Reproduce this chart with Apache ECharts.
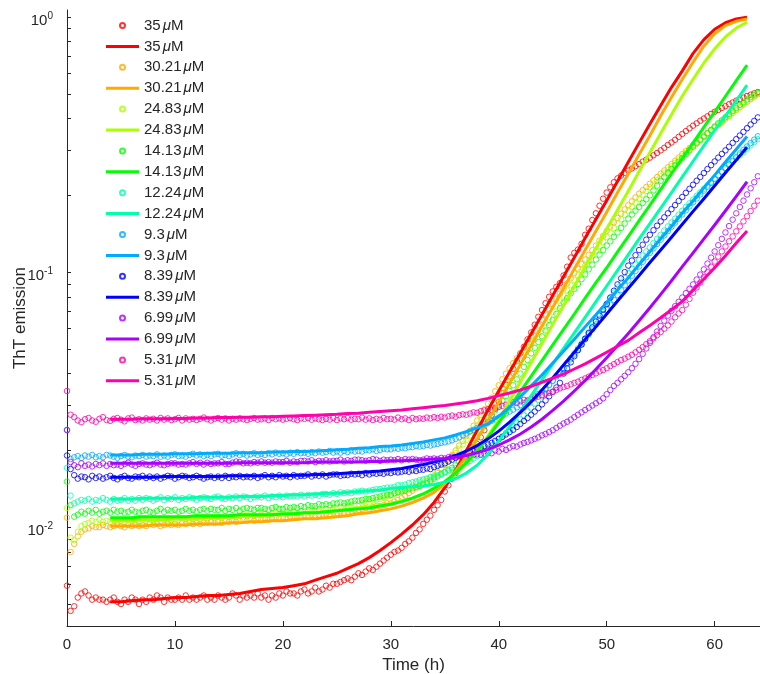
<!DOCTYPE html>
<html>
<head>
<meta charset="utf-8">
<script src="https://cdn.jsdelivr.net/npm/echarts@6/dist/echarts.min.js"></script>
<style>
html, body { margin: 0; padding: 0; background: #fff; }
#chart { width: 760px; height: 674px; }
</style>
</head>
<body>
<div id="chart"></div>
<script>
// Peptide concentrations (μM) and their colours
const concentrations = ['35', '30.21', '24.83', '14.13', '12.24', '9.3', '8.39', '6.99', '5.31'];
const palette = ['#ff0000', '#ffaa00', '#aaff00', '#00ff00', '#00ffaa', '#00aaff', '#0000ff', '#aa00ff', '#ff00aa'];

// Plate reader sampled every 20 min, starting at t = 0 h
const READ_INTERVAL_H = 1 / 3;
// Fitted curves are evaluated hourly from this time on
const FIT_START_H = 4;

// Axis ticks
const xTicks = [0, 10, 20, 30, 40, 50, 60];
const yLabelTicks = [0.01, 0.1, 1];
const yMinorTicks = [0.005, 0.006, 0.007, 0.008, 0.009, 0.01, 0.02, 0.03, 0.04, 0.05, 0.06, 0.07, 0.08, 0.09, 0.1, 0.2, 0.3, 0.4, 0.5, 0.6, 0.7, 0.8, 0.9, 1];

// Measured ThT emission
const tht35 = [.0059,.0047,.0049,.0053,.0055,.0056,.0054,.0052,.0053,.0052,.0052,.0051,.0052,.0053,.0051,.0050,.0052,.0051,.0053,.0052,.0050,.0052,.0051,.0053,.0052,.0054,.0053,.0051,.0053,.0052,.0052,.0053,.0052,.0054,.0052,.0053,.0052,.0053,.0054,.0052,.0053,.0052,.0054,.0053,.0052,.0053,.0055,.0054,.0052,.0054,.0053,.0054,.0053,.0055,.0053,.0054,.0052,.0054,.0053,.0055,.0054,.0056,.0055,.0055,.0054,.0056,.0057,.0055,.0056,.0058,.0056,.0057,.0059,.0058,.0060,.0060,.0061,.0062,.0063,.0062,.0064,.0066,.0065,.0067,.0069,.0068,.0070,.0072,.0074,.0076,.0078,.0080,.0081,.0083,.0086,.0088,.0091,.0095,.0098,.0103,.0107,.0111,.0117,.0122,.0128,.0138,.0146,.0155,.0163,.0172,.0180,.0189,.0196,.0203,.0212,.0225,.0240,.0258,.0274,.0291,.0310,.0335,.0362,.0390,.0418,.0448,.0480,.0510,.0545,.0580,.0622,.0668,.0710,.0755,.0800,.0840,.0875,.0905,.0970,.1050,.1140,.1190,.1225,.1290,.1400,.1480,.1600,.1700,.1820,.1940,.2050,.2150,.2250,.2330,.2390,.2450,.2500,.2550,.2600,.2650,.2710,.2760,.2810,.2870,.2930,.3000,.3070,.3150,.3220,.3300,.3390,.3480,.3570,.3660,.3750,.3830,.3920,.4000,.4080,.4170,.4250,.4320,.4400,.4470,.4550,.4620,.4700,.4760,.4830,.4900,.4960,.5020,.5080];
const tht30 = [.0109,.0080,.0086,.0092,.0096,.0098,.0099,.0101,.0100,.0100,.0102,.0101,.0100,.0101,.0102,.0101,.0100,.0102,.0101,.0102,.0101,.0102,.0101,.0103,.0102,.0103,.0101,.0102,.0103,.0102,.0103,.0102,.0104,.0103,.0104,.0103,.0104,.0103,.0104,.0104,.0105,.0104,.0105,.0104,.0106,.0105,.0106,.0105,.0106,.0107,.0106,.0107,.0106,.0108,.0107,.0108,.0107,.0108,.0109,.0108,.0109,.0108,.0110,.0110,.0109,.0110,.0111,.0110,.0112,.0111,.0112,.0113,.0113,.0112,.0114,.0114,.0115,.0114,.0115,.0116,.0117,.0117,.0118,.0119,.0118,.0120,.0121,.0121,.0122,.0124,.0124,.0126,.0128,.0130,.0133,.0136,.0139,.0142,.0145,.0148,.0151,.0154,.0157,.0163,.0170,.0176,.0184,.0192,.0200,.0209,.0218,.0228,.0239,.0250,.0262,.0275,.0290,.0305,.0322,.0341,.0360,.0380,.0400,.0420,.0440,.0460,.0480,.0505,.0532,.0560,.0588,.0618,.0650,.0682,.0715,.0750,.0785,.0822,.0860,.0902,.0945,.0990,.1032,.1075,.1120,.1168,.1218,.1270,.1327,.1387,.1450,.1508,.1568,.1630,.1695,.1762,.1830,.1895,.1962,.2030,.2093,.2156,.2220,.2288,.2358,.2430,.2502,.2575,.2650,.2730,.2813,.2900,.2982,.3065,.3150,.3238,.3328,.3420,.3512,.3605,.3700,.3798,.3898,.4000,.4105,.4212,.4320,.4428,.4538,.4650,.4758,.4868,.4980];
const tht24 = [.0119,.0091,.0089,.0096,.0101,.0103,.0104,.0106,.0105,.0107,.0105,.0106,.0105,.0107,.0106,.0106,.0105,.0107,.0107,.0106,.0105,.0106,.0108,.0107,.0107,.0106,.0108,.0108,.0107,.0106,.0107,.0109,.0108,.0108,.0107,.0109,.0109,.0108,.0110,.0108,.0110,.0109,.0110,.0109,.0111,.0110,.0111,.0110,.0111,.0112,.0111,.0112,.0111,.0113,.0112,.0113,.0112,.0113,.0114,.0113,.0114,.0113,.0115,.0115,.0114,.0116,.0116,.0115,.0117,.0117,.0116,.0118,.0118,.0119,.0118,.0119,.0120,.0121,.0121,.0122,.0123,.0123,.0124,.0125,.0125,.0127,.0128,.0129,.0130,.0132,.0133,.0135,.0137,.0139,.0141,.0143,.0145,.0148,.0151,.0153,.0155,.0157,.0160,.0165,.0170,.0175,.0181,.0188,.0195,.0203,.0211,.0220,.0229,.0239,.0250,.0263,.0276,.0290,.0304,.0319,.0335,.0353,.0371,.0390,.0409,.0429,.0450,.0472,.0496,.0520,.0545,.0572,.0600,.0632,.0665,.0700,.0735,.0772,.0810,.0848,.0888,.0930,.0972,.1015,.1060,.1108,.1158,.1210,.1262,.1315,.1370,.1428,.1488,.1550,.1612,.1675,.1740,.1805,.1872,.1940,.2010,.2080,.2150,.2222,.2295,.2370,.2445,.2522,.2600,.2682,.2765,.2850,.2935,.3022,.3110,.3198,.3288,.3380,.3474,.3570,.3670,.3772,.3876,.3980,.4087,.4197,.4310,.4425,.4542,.4660,.4780,.4903,.5030];
const tht14 = [.0151,.0122,.0110,.0112,.0115,.0113,.0116,.0114,.0117,.0113,.0115,.0116,.0114,.0117,.0115,.0116,.0114,.0115,.0117,.0115,.0114,.0116,.0117,.0115,.0114,.0116,.0118,.0115,.0117,.0116,.0117,.0115,.0116,.0118,.0116,.0117,.0115,.0117,.0118,.0116,.0118,.0117,.0117,.0119,.0116,.0118,.0117,.0119,.0116,.0118,.0119,.0118,.0117,.0119,.0119,.0118,.0117,.0119,.0120,.0118,.0118,.0120,.0119,.0120,.0119,.0121,.0120,.0122,.0121,.0121,.0123,.0122,.0123,.0122,.0124,.0124,.0125,.0124,.0125,.0126,.0127,.0127,.0128,.0129,.0129,.0130,.0131,.0132,.0133,.0134,.0134,.0136,.0137,.0138,.0139,.0141,.0142,.0144,.0145,.0147,.0149,.0152,.0155,.0158,.0161,.0164,.0168,.0171,.0175,.0181,.0188,.0195,.0204,.0214,.0225,.0237,.0249,.0262,.0275,.0287,.0300,.0313,.0327,.0342,.0360,.0380,.0400,.0425,.0452,.0480,.0505,.0532,.0560,.0590,.0620,.0650,.0686,.0722,.0760,.0791,.0825,.0860,.0898,.0938,.0980,.1025,.1070,.1120,.1170,.1220,.1270,.1320,.1375,.1430,.1490,.1550,.1620,.1680,.1740,.1800,.1865,.1930,.2000,.2090,.2180,.2280,.2360,.2450,.2540,.2620,.2710,.2800,.2900,.3000,.3100,.3200,.3300,.3400,.3500,.3610,.3720,.3830,.3940,.4050,.4170,.4280,.4400,.4520,.4630,.4750,.4850,.4950,.5050];
const tht12 = [.0171,.0133,.0124,.0126,.0128,.0127,.0129,.0126,.0128,.0127,.0130,.0128,.0126,.0129,.0127,.0128,.0130,.0127,.0129,.0127,.0130,.0128,.0130,.0129,.0127,.0129,.0131,.0128,.0130,.0129,.0131,.0128,.0130,.0129,.0131,.0130,.0128,.0130,.0131,.0130,.0129,.0131,.0132,.0130,.0129,.0131,.0130,.0132,.0130,.0132,.0131,.0129,.0131,.0132,.0131,.0133,.0130,.0132,.0131,.0133,.0131,.0133,.0132,.0133,.0132,.0134,.0132,.0134,.0133,.0134,.0133,.0135,.0135,.0134,.0136,.0135,.0137,.0136,.0137,.0136,.0138,.0138,.0139,.0138,.0139,.0140,.0141,.0141,.0142,.0143,.0143,.0144,.0146,.0146,.0147,.0149,.0150,.0151,.0153,.0154,.0155,.0157,.0158,.0160,.0162,.0164,.0166,.0168,.0170,.0173,.0176,.0179,.0182,.0186,.0190,.0194,.0199,.0204,.0209,.0215,.0221,.0227,.0234,.0241,.0249,.0257,.0265,.0274,.0284,.0294,.0305,.0316,.0330,.0345,.0360,.0375,.0390,.0405,.0420,.0440,.0460,.0480,.0503,.0526,.0550,.0580,.0612,.0645,.0680,.0715,.0750,.0790,.0830,.0870,.0910,.0950,.0990,.1030,.1072,.1115,.1160,.1205,.1250,.1300,.1350,.1400,.1455,.1510,.1565,.1620,.1680,.1740,.1800,.1860,.1925,.1990,.2055,.2120,.2190,.2260,.2330,.2400,.2475,.2550,.2630,.2710,.2790,.2875,.2960,.3050,.3140,.3230,.3320];
const tht9 = [.0241,.0185,.0188,.0190,.0187,.0191,.0189,.0192,.0188,.0190,.0188,.0192,.0191,.0189,.0187,.0190,.0192,.0189,.0188,.0191,.0190,.0192,.0189,.0191,.0190,.0193,.0189,.0191,.0189,.0192,.0193,.0190,.0191,.0189,.0192,.0194,.0191,.0193,.0190,.0192,.0190,.0193,.0194,.0191,.0192,.0190,.0193,.0195,.0192,.0194,.0191,.0193,.0195,.0192,.0194,.0192,.0195,.0193,.0196,.0194,.0195,.0193,.0196,.0194,.0197,.0195,.0196,.0194,.0197,.0195,.0198,.0196,.0197,.0199,.0196,.0198,.0196,.0199,.0197,.0200,.0198,.0199,.0198,.0201,.0200,.0202,.0199,.0201,.0203,.0202,.0202,.0204,.0203,.0205,.0204,.0206,.0206,.0208,.0207,.0208,.0210,.0209,.0211,.0212,.0214,.0215,.0217,.0219,.0222,.0225,.0229,.0233,.0237,.0241,.0245,.0249,.0253,.0257,.0261,.0265,.0269,.0274,.0279,.0284,.0289,.0295,.0301,.0307,.0313,.0319,.0326,.0333,.0340,.0350,.0362,.0375,.0390,.0405,.0420,.0437,.0455,.0475,.0497,.0520,.0545,.0570,.0597,.0624,.0652,.0682,.0712,.0745,.0779,.0814,.0850,.0888,.0927,.0968,.1010,.1053,.1097,.1143,.1190,.1239,.1289,.1340,.1393,.1448,.1504,.1562,.1621,.1682,.1745,.1810,.1876,.1944,.2014,.2086,.2160,.2236,.2314,.2394,.2476,.2560,.2646,.2734,.2824,.2916,.3010,.3106,.3204,.3304,.3406];
const tht8 = [.0191,.0169,.0160,.0155,.0158,.0157,.0154,.0159,.0156,.0158,.0155,.0157,.0159,.0156,.0154,.0157,.0159,.0156,.0155,.0158,.0157,.0159,.0156,.0158,.0156,.0158,.0155,.0157,.0159,.0158,.0155,.0157,.0159,.0158,.0156,.0157,.0159,.0157,.0155,.0157,.0158,.0156,.0158,.0156,.0159,.0156,.0158,.0157,.0159,.0157,.0158,.0157,.0159,.0156,.0158,.0160,.0157,.0159,.0157,.0160,.0158,.0159,.0157,.0160,.0158,.0159,.0159,.0161,.0158,.0160,.0159,.0161,.0158,.0160,.0161,.0161,.0159,.0160,.0160,.0162,.0161,.0162,.0160,.0163,.0161,.0163,.0162,.0163,.0162,.0164,.0163,.0165,.0164,.0165,.0166,.0165,.0167,.0166,.0168,.0168,.0170,.0169,.0172,.0174,.0176,.0178,.0181,.0184,.0187,.0190,.0192,.0194,.0197,.0199,.0202,.0205,.0208,.0211,.0214,.0218,.0222,.0226,.0231,.0236,.0241,.0247,.0254,.0261,.0268,.0276,.0284,.0293,.0303,.0314,.0326,.0339,.0353,.0368,.0400,.0420,.0443,.0468,.0494,.0520,.0548,.0577,.0607,.0640,.0675,.0712,.0750,.0795,.0845,.0895,.0945,.1000,.1060,.1110,.1165,.1220,.1280,.1340,.1400,.1460,.1520,.1580,.1640,.1700,.1765,.1830,.1900,.1970,.2045,.2120,.2200,.2280,.2360,.2445,.2535,.2625,.2715,.2810,.2905,.3000,.3100,.3210,.3320,.3430,.3545,.3665,.3790,.3915,.4040];
const tht6 = [.0240,.0180,.0175,.0172,.0178,.0174,.0176,.0173,.0177,.0175,.0178,.0174,.0177,.0175,.0176,.0174,.0177,.0179,.0176,.0174,.0177,.0178,.0176,.0175,.0177,.0179,.0176,.0175,.0177,.0178,.0178,.0176,.0177,.0176,.0178,.0180,.0177,.0179,.0176,.0179,.0177,.0178,.0178,.0180,.0177,.0177,.0179,.0181,.0180,.0178,.0179,.0178,.0180,.0179,.0181,.0179,.0180,.0179,.0181,.0180,.0180,.0182,.0179,.0181,.0180,.0182,.0182,.0181,.0183,.0180,.0182,.0181,.0183,.0181,.0182,.0182,.0184,.0181,.0183,.0182,.0184,.0184,.0183,.0182,.0183,.0185,.0184,.0182,.0184,.0183,.0184,.0183,.0185,.0183,.0185,.0184,.0185,.0184,.0183,.0184,.0186,.0185,.0186,.0185,.0187,.0186,.0188,.0189,.0188,.0190,.0189,.0191,.0190,.0192,.0193,.0192,.0194,.0196,.0195,.0200,.0198,.0203,.0201,.0205,.0208,.0207,.0211,.0214,.0216,.0219,.0222,.0225,.0229,.0232,.0236,.0240,.0245,.0250,.0255,.0259,.0264,.0270,.0276,.0282,.0288,.0294,.0300,.0306,.0312,.0320,.0332,.0345,.0358,.0368,.0380,.0392,.0405,.0420,.0437,.0456,.0478,.0502,.0528,.0556,.0585,.0615,.0645,.0675,.0705,.0735,.0765,.0795,.0827,.0860,.0895,.0935,.0978,.1025,.1080,.1140,.1205,.1275,.1350,.1430,.1515,.1605,.1700,.1800,.1905,.2015,.2130,.2250,.2375];
const tht5 = [.0342,.0276,.0270,.0262,.0258,.0265,.0268,.0262,.0259,.0266,.0270,.0263,.0261,.0266,.0268,.0264,.0260,.0267,.0269,.0263,.0265,.0262,.0267,.0264,.0266,.0262,.0268,.0264,.0267,.0263,.0265,.0268,.0262,.0267,.0264,.0266,.0263,.0266,.0269,.0265,.0262,.0266,.0268,.0264,.0267,.0262,.0266,.0264,.0267,.0265,.0263,.0266,.0268,.0264,.0265,.0267,.0263,.0268,.0265,.0267,.0264,.0266,.0268,.0265,.0263,.0267,.0266,.0268,.0264,.0267,.0265,.0263,.0266,.0264,.0268,.0263,.0267,.0265,.0268,.0264,.0266,.0265,.0269,.0264,.0267,.0263,.0266,.0264,.0268,.0265,.0266,.0264,.0269,.0265,.0267,.0263,.0268,.0265,.0267,.0266,.0269,.0267,.0270,.0268,.0271,.0269,.0272,.0274,.0271,.0275,.0277,.0276,.0279,.0282,.0281,.0285,.0287,.0290,.0288,.0294,.0296,.0299,.0302,.0304,.0309,.0307,.0312,.0316,.0314,.0318,.0322,.0325,.0329,.0333,.0336,.0340,.0345,.0350,.0354,.0358,.0363,.0368,.0372,.0378,.0383,.0389,.0395,.0401,.0408,.0413,.0420,.0428,.0436,.0444,.0452,.0458,.0466,.0474,.0485,.0496,.0508,.0522,.0536,.0550,.0566,.0582,.0600,.0618,.0640,.0665,.0688,.0710,.0745,.0785,.0830,.0870,.0910,.0955,.1000,.1050,.1100,.1150,.1205,.1260,.1320,.1380,.1445,.1510,.1580,.1655,.1735,.1820,.1905];

// Fitted model curves, hourly from FIT_START_H
const fit35 = [.0051,.0051,.00515,.0052,.0052,.00525,.0053,.0053,.00535,.0054,.0054,.00545,.0055,.0056,.0057,.00575,.0058,.0059,.0060,.0062,.0064,.0066,.0069,.0072,.0076,.0081,.0087,.0094,.0102,.0112,.0125,.0143,.0167,.0200,.0240,.0288,.0342,.0406,.0482,.0573,.068,.081,.096,.114,.136,.161,.191,.227,.270,.321,.381,.45,.53,.615,.72,.815,.895,.95,.983,.997];
const fit30 = [.0101,.0101,.0101,.0101,.0102,.0102,.0102,.0102,.0103,.0103,.0103,.0104,.0104,.0105,.0105,.0106,.0106,.0107,.0108,.0108,.0109,.0110,.0111,.0113,.0114,.0116,.0118,.0121,.0125,.0130,.0137,.0148,.0166,.0190,.0222,.0262,.0308,.0366,.0434,.0516,.0613,.0728,.0865,.103,.122,.145,.172,.205,.243,.289,.343,.41,.485,.57,.665,.77,.86,.925,.962,.982];
const fit24 = [.0106,.0106,.0106,.0107,.0107,.0107,.0108,.0108,.0108,.0109,.0109,.0110,.0110,.0111,.0111,.0112,.0112,.0113,.0114,.0114,.0115,.0116,.0117,.0119,.0120,.0122,.0124,.0127,.0130,.0135,.0142,.0150,.0162,.0178,.0199,.0228,.0264,.0313,.0372,.0442,.0525,.0624,.074,.088,.105,.124,.148,.175,.208,.248,.294,.350,.415,.49,.57,.66,.75,.835,.905,.955];
const fit14 = [.0109,.0109,.0109,.0110,.0110,.0110,.0110,.0110,.0111,.0111,.0111,.0111,.0112,.0112,.0112,.0112,.0113,.0113,.0114,.0114,.0115,.0116,.0117,.0118,.0119,.0121,.0123,.0126,.0130,.0135,.0142,.0151,.0163,.0179,.0199,.0225,.0257,.0295,.034,.0391,.045,.0518,.0596,.0685,.079,.091,.104,.120,.138,.159,.183,.211,.243,.279,.321,.37,.425,.489,.563,.648];
const fit12 = [.0129,.0129,.0129,.0130,.0130,.0130,.0130,.0130,.0131,.0131,.0131,.0131,.0132,.0132,.0132,.0133,.0133,.0134,.0134,.0135,.0136,.0136,.0137,.0138,.0139,.0140,.0142,.0143,.0144,.0145,.0147,.0150,.0155,.0163,.0175,.0193,.0218,.0248,.0285,.0328,.0378,.0436,.0502,.0578,.0665,.0766,.0882,.1015,.117,.135,.155,.178,.205,.236,.272,.313,.36,.41,.47,.541];
const fit9 = [.0192,.0192,.0192,.0193,.0193,.0193,.0194,.0194,.0194,.0195,.0195,.0195,.0196,.0196,.0196,.0197,.0197,.0198,.0198,.0199,.0200,.0201,.0202,.0204,.0205,.0207,.0208,.0210,.0213,.0216,.0220,.0224,.0230,.0237,.0245,.0254,.0272,.0296,.0325,.0358,.0395,.044,.049,.0545,.061,.068,.076,.085,.095,.107,.12,.135,.151,.17,.19,.214,.24,.27,.303,.34];
const fit8 = [.0157,.0157,.0157,.0157,.0157,.0158,.0158,.0158,.0158,.0158,.0158,.0159,.0159,.0159,.0159,.0159,.0159,.0160,.0160,.0161,.0161,.0162,.0163,.0164,.0165,.0166,.0168,.0170,.0173,.0176,.0180,.0185,.0191,.0199,.0209,.0222,.0238,.0258,.0282,.031,.0345,.0385,.0432,.0485,.0545,.061,.0685,.077,.0865,.097,.109,.122,.137,.154,.173,.194,.218,.245,.275,.309];
const fit6 = [.0178,.0178,.0178,.0178,.0178,.0178,.0178,.0178,.0178,.0178,.0178,.0178,.0179,.0179,.0179,.0179,.0179,.0179,.0179,.0180,.0180,.0180,.0180,.0180,.0181,.0181,.0182,.0182,.0183,.0184,.0185,.0186,.0188,.0191,.0196,.0202,.0210,.0220,.0232,.0247,.0265,.0287,.0312,.0342,.0376,.0416,.0462,.0515,.0575,.0645,.0725,.0818,.0925,.105,.119,.135,.153,.174,.198,.226];
const fit5 = [.0265,.0265,.0265,.0266,.0266,.0266,.0267,.0267,.0268,.0268,.0269,.0269,.0270,.0270,.0271,.0271,.0272,.0273,.0274,.0275,.0276,.0277,.0279,.0280,.0282,.0284,.0286,.0288,.0291,.0294,.0297,.0300,.0304,.0308,.0313,.0320,.0328,.0336,.0345,.0357,.037,.0384,.0398,.0417,.0437,.046,.0485,.0512,.054,.0578,.0618,.0662,.0712,.0768,.085,.094,.104,.116,.130,.145];

const measured = [tht35, tht30, tht24, tht14, tht12, tht9, tht8, tht6, tht5];
const fitted = [fit35, fit30, fit24, fit14, fit12, fit9, fit8, fit6, fit5];

const FONT = '"Liberation Sans", Arial, Helvetica, sans-serif';
const INK = '#262626';
// Thin horizontal bar used as the legend swatch of a fitted curve
const LINE_SWATCH = 'path://M0,0L33,0L33,3L0,3Z';

const series = [];
const legendItems = [];
concentrations.forEach((c, i) => {
  const color = palette[i];
  const pts = measured[i].map((v, k) => [k * READ_INTERVAL_H, v]);
  const fit = fitted[i].map((v, k) => [FIT_START_H + k, v]);
  series.push({
    name: c + '|data',
    type: 'scatter',
    data: pts,
    symbol: 'circle',
    symbolSize: 5.5,
    itemStyle: { color: 'rgba(0,0,0,0)', borderColor: color, borderWidth: 1 },
    emphasis: { disabled: true },
    silent: true,
    animation: false
  });
  series.push({
    name: c + '|fit',
    type: 'line',
    data: fit,
    showSymbol: false,
    symbol: 'none',
    smooth: false,
    lineStyle: { color: color, width: 3, join: 'round' },
    itemStyle: { color: color },
    emphasis: { disabled: true },
    silent: true,
    animation: false
  });
  legendItems.push({ name: c + '|data' });
  legendItems.push({ name: c + '|fit', icon: LINE_SWATCH, itemStyle: { color: color, borderWidth: 0 } });
});

function powerLabel(v) {
  const e = Math.round(Math.log10(v));
  return '{b|10}{s|' + e + '}';
}

const chart = echarts.init(document.getElementById('chart'), null, { renderer: 'canvas' });
chart.setOption({
  backgroundColor: '#ffffff',
  animation: false,
  textStyle: { fontFamily: FONT },
  grid: { left: 67, right: 0, top: 10, bottom: 48, containLabel: false, outerBoundsMode: 'none' },
  legend: {
    data: legendItems,
    orient: 'vertical',
    left: 106,
    top: 18,
    padding: 0,
    itemWidth: 33,
    itemHeight: 5,
    itemGap: 5.9,
    selectedMode: false,
    formatter: name => '{n|' + name.split('|')[0] + '}{m|μ}{n|M}',
    textStyle: {
      color: INK,
      fontFamily: FONT,
      lineHeight: 15,
      rich: {
        n: { fontSize: 15, fontFamily: FONT, color: INK },
        m: { fontSize: 15, fontFamily: FONT, fontStyle: 'italic', color: INK, padding: [0, 0, 0, 2] }
      }
    }
  },
  xAxis: {
    type: 'value',
    min: 0,
    max: 64.2,
    name: 'Time (h)',
    nameLocation: 'middle',
    nameGap: 31,
    nameMoveOverlap: false,
    nameTextStyle: { fontSize: 17, color: INK, fontFamily: FONT },
    axisLine: { show: true, lineStyle: { color: INK, width: 1 } },
    axisTick: { show: true, inside: true, length: 5, customValues: xTicks, lineStyle: { color: INK } },
    axisLabel: { customValues: xTicks, fontSize: 15, color: INK, margin: 11, fontFamily: FONT },
    splitLine: { show: false }
  },
  yAxis: {
    type: 'log',
    logBase: 10,
    min: 0.0041,
    max: 1.065,
    name: 'ThT emission',
    nameLocation: 'middle',
    nameGap: 38,
    nameMoveOverlap: false,
    nameTextStyle: { fontSize: 17, color: INK, fontFamily: FONT },
    axisLine: { show: true, lineStyle: { color: INK, width: 1 } },
    axisTick: { show: true, inside: true, length: 4, customValues: yMinorTicks, lineStyle: { color: INK } },
    axisLabel: {
      customValues: yLabelTicks,
      margin: 14,
      padding: [8, 0, 0, 0],
      formatter: powerLabel,
      rich: {
        b: { fontSize: 15, color: INK, fontFamily: FONT },
        s: { fontSize: 10, color: INK, fontFamily: FONT, padding: [0, 0, 9, 0] }
      }
    },
    splitLine: { show: false }
  },
  series: series
});
</script>
</body>
</html>
